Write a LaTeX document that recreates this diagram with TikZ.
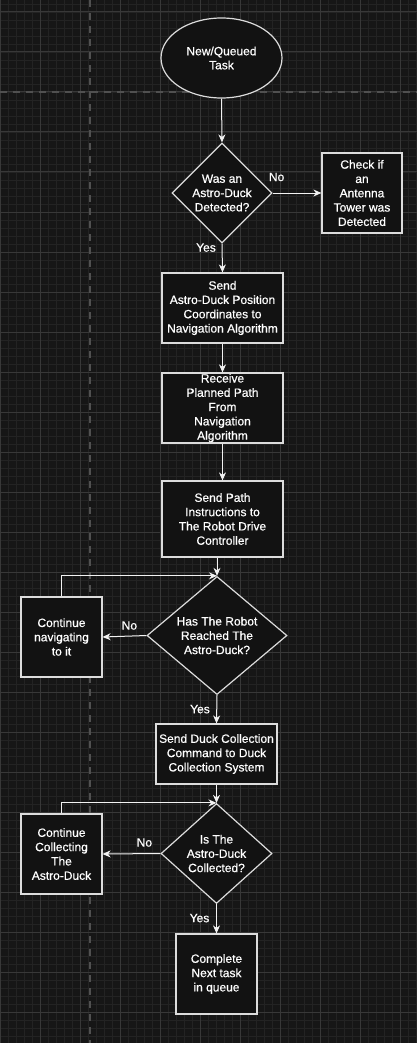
\documentclass[tikz,border=0pt]{standalone}
\usepackage{fontspec}
\setmainfont{Liberation Sans}
\newfontfamily\nodefont{Liberation Sans}[FakeBold=0.6]
\usetikzlibrary{shapes.geometric,arrows.meta}
\definecolor{bgc}{HTML}{161616}
\definecolor{minorc}{HTML}{232323}
\definecolor{majorc}{HTML}{383838}
\definecolor{pagec}{HTML}{505050}
\definecolor{nodefill}{HTML}{121212}
\definecolor{edgec}{HTML}{F2F2F2}
\definecolor{borderc}{HTML}{DCDCDC}
\tikzset{
  base/.style={draw=borderc, line width=1.2pt, fill=nodefill, text=white, align=center,
    font=\nodefont\fontsize{12}{14.3}\selectfont, inner sep=0pt},
  boxn/.style={base, rectangle},
  ovaln/.style={base, ellipse},
  decn/.style={base, diamond},
  arr/.style={draw=edgec, line width=1pt, -{Stealth[length=8pt,width=7pt,inset=2.5pt]}},
  lbl/.style={text=white, font=\nodefont\fontsize{12}{14.3}\selectfont, inner sep=0pt},
}
\begin{document}
\begin{tikzpicture}[x=1pt,y=-1pt]
\useasboundingbox (0,0) rectangle (417,1043);
\fill[bgc] (0,0) rectangle (417,1043);
% minor grid
\foreach \i in {0,...,52} {\draw[minorc, line width=0.8pt] (\i*8,0) -- (\i*8,1043);}
\foreach \i in {0,...,130} {\draw[minorc, line width=0.8pt] (0,4+\i*8) -- (417,4+\i*8);}
% major grid
\foreach \i in {0,...,10} {\draw[majorc, line width=1pt] (\i*40,0) -- (\i*40,1043);}
\foreach \i in {0,...,26} {\draw[majorc, line width=1pt] (0,12+\i*40) -- (417,12+\i*40);}
% page break lines
\draw[pagec, line width=2pt, dash pattern=on 7pt off 6pt] (90,0) -- (90,1043);
\draw[pagec, line width=2pt, dash pattern=on 7pt off 6pt] (0,92.5) -- (417,92.5);

% nodes
\node[ovaln, minimum width=121pt, minimum height=80pt] (start) at (221.5,58) {\raisebox{-4pt}{\shortstack{New/Queued\\Task}}};
\node[decn, minimum width=100pt, minimum height=100pt] (d1) at (222,193) {Was an\\Astro-Duck\\Detected?};
\node[boxn, minimum width=80pt, minimum height=80pt] (chk) at (362,193) {Check if\\an\\Antenna\\Tower was\\Detected};
\node[boxn, minimum width=121pt, minimum height=70pt] (s1) at (222.5,308) {Send\\Astro-Duck Position\\Coordinates to\\Navigation Algorithm};
\node[boxn, minimum width=121pt, minimum height=70pt] (s2) at (222.5,408) {Receive\\Planned Path\\From\\Navigation\\Algorithm};
\node[boxn, minimum width=121pt, minimum height=76pt] (s3) at (222.5,519) {Send Path\\Instructions to\\The Robot Drive\\Controller};
\node[decn, minimum width=140pt, minimum height=115pt] (d2) at (217,635.5) {Has The Robot\\Reached The\\Astro-Duck?};
\node[boxn, minimum width=81pt, minimum height=80pt] (nav) at (61.5,637) {Continue\\navigating\\to it};
\node[boxn, minimum width=121pt, minimum height=60pt] (sdc) at (216.5,754) {Send Duck Collection\\Command to Duck\\Collection System};
\node[decn, minimum width=111pt, minimum height=100pt] (d3) at (216.5,853.5) {Is The\\Astro-Duck\\Collected?};
\node[boxn, minimum width=81pt, minimum height=80pt] (col) at (61.5,854) {Continue\\Collecting\\The\\Astro-Duck};
\node[boxn, minimum width=81pt, minimum height=80pt] (comp) at (216.5,974) {Complete\\Next task\\in queue};

% connectors
\draw[arr] (start.south) -- (d1.north);
\draw[arr] (d1.east) -- node[lbl, pos=0, xshift=4pt, yshift=16pt] (no1) {No} (chk.west);
\draw[arr] (d1.south) -- node[lbl, pos=0, xshift=-16pt, yshift=-4pt] (yes1) {Yes} (s1.north);
\draw[arr] (s1.south) -- (s2.north);
\draw[arr] (s2.south) -- (s3.north);
\draw[arr] (d2.north |- s3.south) -- (d2.north);
\draw[arr] (d2.west) -- node[lbl, pos=0, xshift=-17pt, yshift=10pt] (no2) {No} (nav.east);
\draw[arr] (nav.north) |- (d2.north);
\draw[arr] (d2.south) -- node[lbl, pos=0, xshift=-17pt, yshift=-14pt] (yes2) {Yes} (sdc.north);
\draw[arr] (sdc.south) -- (d3.north);
\draw[arr] (d3.west) -- node[lbl, pos=0, xshift=-16pt, yshift=11pt] (no3) {No} (col.east);
\draw[arr] (col.north) |- (d3.north);
\draw[arr] (d3.south) -- node[lbl, pos=0, xshift=-17pt, yshift=-14pt] (yes3) {Yes} (comp.north);
\end{tikzpicture}
\end{document}
